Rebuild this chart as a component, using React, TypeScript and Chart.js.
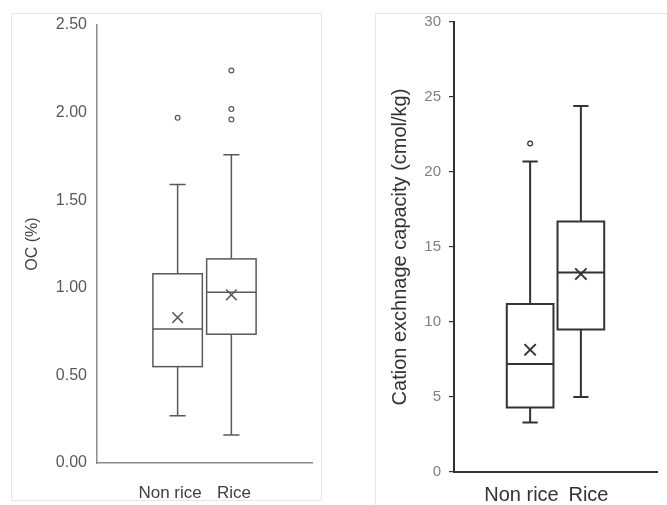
import React, { useEffect, useRef } from 'react';
import { Chart, registerables } from 'chart.js';
Chart.register(...registerables);

// ---------- data ----------
const categories = ['Non rice', 'Rice'];

// Organic carbon (%)
const ocMin = [0.27, 0.16];
const ocQ1 = [0.55, 0.735];
const ocMedian = [0.765, 0.975];
const ocQ3 = [1.08, 1.165];
const ocMax = [1.59, 1.76];
const ocMean = [0.83, 0.96];
const ocOutliers = [[1.97], [2.24, 2.02, 1.96]];
const ocTicks = [0, 0.5, 1.0, 1.5, 2.0, 2.5];

// Cation exchange capacity (cmol/kg)
const cecMin = [3.3, 5.0];
const cecQ1 = [4.3, 9.5];
const cecMedian = [7.2, 13.3];
const cecQ3 = [11.2, 16.7];
const cecMax = [20.7, 24.4];
const cecMean = [8.15, 13.2];
const cecOutliers = [[21.9], []];
const cecTicks = [0, 5, 10, 15, 20, 25, 30];

type Cfg = {
  min: number[]; q1: number[]; med: number[]; q3: number[]; max: number[]; mean: number[];
  outliers: number[][]; ticks: number[]; decimals: number; title: string;
  width: number; height: number; labelPos: number[];
  yAxisWidth: number; xAxisHeight: number; padTop: number; padRight: number;
  tickFont: number; tickColor: string; titleFont: number; titleColor: string; titlePad: number;
  xFont: number; xColor: string; xPad: number;
  axisColor: string; axisWidth: number; lineColor: string; lineWidth: number;
  yTickMarks: boolean; yLabelPad: number; meanRadius: number;
};

function BoxChart({ cfg }: { cfg: Cfg }) {
  const ref = useRef<HTMLCanvasElement | null>(null);
  useEffect(() => {
    if (!ref.current) return;
    const boxHalf = 0.46;
    const capHalf = 0.15;
    const boxPlugin = {
      id: 'boxdraw',
      beforeDatasetsDraw(chart: any) {
        const { ctx, scales } = chart;
        const xs = scales.x, ys = scales.y;
        ctx.save();
        ctx.strokeStyle = cfg.lineColor;
        ctx.lineWidth = cfg.lineWidth;
        categories.forEach((_, i) => {
          const c = i + 1;
          const xl = xs.getPixelForValue(c - boxHalf);
          const xr = xs.getPixelForValue(c + boxHalf);
          const xc = xs.getPixelForValue(c);
          const cl = xs.getPixelForValue(c - capHalf);
          const cr = xs.getPixelForValue(c + capHalf);
          const yMin = ys.getPixelForValue(cfg.min[i]);
          const yQ1 = ys.getPixelForValue(cfg.q1[i]);
          const yMed = ys.getPixelForValue(cfg.med[i]);
          const yQ3 = ys.getPixelForValue(cfg.q3[i]);
          const yMax = ys.getPixelForValue(cfg.max[i]);
          ctx.beginPath();
          ctx.moveTo(xc, yMax); ctx.lineTo(xc, yQ3);
          ctx.moveTo(xc, yQ1); ctx.lineTo(xc, yMin);
          ctx.moveTo(cl, yMax); ctx.lineTo(cr, yMax);
          ctx.moveTo(cl, yMin); ctx.lineTo(cr, yMin);
          ctx.stroke();
          ctx.fillStyle = '#ffffff';
          ctx.fillRect(xl, yQ3, xr - xl, yQ1 - yQ3);
          ctx.strokeRect(xl, yQ3, xr - xl, yQ1 - yQ3);
          ctx.beginPath();
          ctx.moveTo(xl, yMed); ctx.lineTo(xr, yMed);
          ctx.stroke();
        });
        ctx.restore();
      },
    };
    const outlierPts: { x: number; y: number }[] = [];
    cfg.outliers.forEach((arr, i) => arr.forEach((v) => outlierPts.push({ x: i + 1, y: v })));
    const chart = new Chart(ref.current, {
      type: 'scatter',
      data: {
        datasets: [
          {
            data: cfg.mean.map((m, i) => ({ x: i + 1, y: m })),
            pointStyle: 'crossRot',
            radius: cfg.meanRadius,
            borderColor: cfg.lineColor,
            borderWidth: cfg.lineWidth,
          },
          {
            data: outlierPts,
            pointStyle: 'circle',
            radius: 2.4,
            backgroundColor: '#ffffff',
            borderColor: cfg.lineColor,
            borderWidth: 1.2,
          },
        ],
      },
      options: {
        animation: false,
        responsive: false,
        devicePixelRatio: 1,
        layout: { padding: { top: cfg.padTop, right: cfg.padRight, left: 0, bottom: 0 } },
        plugins: { legend: { display: false }, tooltip: { enabled: false } },
        scales: {
          x: {
            type: 'linear',
            min: -0.5,
            max: 3.5,
            afterBuildTicks: (s: any) => { s.ticks = cfg.labelPos.map((v) => ({ value: v })); },
            afterFit: (s: any) => { s.height = cfg.xAxisHeight; },
            ticks: {
              autoSkip: false,
              maxRotation: 0,
              padding: cfg.xPad,
              color: cfg.xColor,
              font: { family: 'Liberation Sans', size: cfg.xFont },
              callback: (_v: any, idx: number) => categories[idx] ?? '',
            },
            grid: { display: false, drawTicks: false },
            border: { display: true, color: cfg.axisColor, width: cfg.axisWidth },
          },
          y: {
            type: 'linear',
            min: cfg.ticks[0],
            max: cfg.ticks[cfg.ticks.length - 1],
            afterBuildTicks: (s: any) => { s.ticks = cfg.ticks.map((v) => ({ value: v })); },
            afterFit: (s: any) => { s.width = cfg.yAxisWidth; },
            ticks: {
              padding: cfg.yLabelPad,
              color: cfg.tickColor,
              font: { family: 'Liberation Sans', size: cfg.tickFont },
              callback: (v: any) => Number(v).toFixed(cfg.decimals),
            },
            grid: cfg.yTickMarks
              ? { display: true, drawOnChartArea: false, drawTicks: true, tickLength: 5, color: cfg.axisColor, lineWidth: 1.2 }
              : { display: false, drawTicks: false },
            border: { display: true, color: cfg.axisColor, width: cfg.axisWidth },
            title: {
              display: true,
              text: cfg.title,
              color: cfg.titleColor,
              font: { family: 'Liberation Sans', size: cfg.titleFont },
              padding: { top: cfg.titlePad, bottom: 0 },
            },
          },
        },
      },
      plugins: [boxPlugin],
    } as any);
    return () => chart.destroy();
  }, [cfg]);
  return <canvas ref={ref} width={cfg.width} height={cfg.height} style={{ width: cfg.width, height: cfg.height, display: 'block' }} />;
}

const leftCfg: Cfg = {
  min: ocMin, q1: ocQ1, med: ocMedian, q3: ocQ3, max: ocMax, mean: ocMean, outliers: ocOutliers,
  ticks: ocTicks, decimals: 2, title: 'OC (%)', labelPos: [0.86, 2.05],
  width: 312, height: 505, yAxisWidth: 86, xAxisHeight: 42, padTop: 25, padRight: 11,
  tickFont: 16, tickColor: '#595959', titleFont: 16, titleColor: '#404040', titlePad: 12,
  xFont: 17, xColor: '#404040', xPad: 20,
  axisColor: '#8c8c8c', axisWidth: 1.5, lineColor: '#595959', lineWidth: 1.5,
  yTickMarks: false, yLabelPad: 10, meanRadius: 7.5,
};

const rightCfg: Cfg = {
  min: cecMin, q1: cecQ1, med: cecMedian, q3: cecQ3, max: cecMax, mean: cecMean, outliers: cecOutliers,
  ticks: cecTicks, decimals: 0, title: 'Cation exchnage capacity (cmol/kg)', labelPos: [0.83, 2.15],
  width: 292, height: 505, yAxisWidth: 79, xAxisHeight: 33, padTop: 22, padRight: 9,
  tickFont: 15, tickColor: '#7f7f7f', titleFont: 20, titleColor: '#333333', titlePad: 13,
  xFont: 20, xColor: '#333333', xPad: 11,
  axisColor: '#333333', axisWidth: 2, lineColor: '#333333', lineWidth: 2,
  yTickMarks: true, yLabelPad: 8, meanRadius: 8,
};

export default function App() {
  return (
    <div style={{ position: 'absolute', left: 0, top: 0, width: 667, height: 505, overflow: 'hidden', background: '#ffffff' }}>
      <div style={{ position: 'absolute', left: 11, top: 13, width: 311, height: 488, border: '1px solid #e6e6e6', boxSizing: 'border-box' }} />
      <div style={{ position: 'absolute', left: 375, top: 13, width: 320, height: 520, border: '1px solid #e6e6e6', boxSizing: 'border-box' }} />
      <div style={{ position: 'absolute', left: 11, top: 0 }}>
        <BoxChart cfg={leftCfg} />
      </div>
      <div style={{ position: 'absolute', left: 375, top: 0 }}>
        <BoxChart cfg={rightCfg} />
      </div>
    </div>
  );
}
